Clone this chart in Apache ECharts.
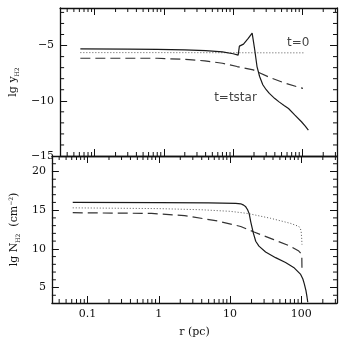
<!DOCTYPE html>
<html><head><meta charset="utf-8">
<script src="https://cdn.jsdelivr.net/npm/echarts@6/dist/echarts.min.js"></script>
<style>html,body{margin:0;padding:0;background:#fff}#c{width:342px;height:339px}</style>
</head><body><div id="c"></div>
<script>
// ---- data (r in pc) ----
const topSolidR = [0.062,0.3,0.8,2,4,7,10,11.8,12.2,12.3,14.1,16.5,18.8,19.6,20.5,22.1,24.1,26.8,30,33.3,40,46,55,63,78,97,110,122];
const topSolidY = [-5.30,-5.32,-5.34,-5.40,-5.46,-5.58,-5.74,-5.87,-5.85,-5.05,-4.87,-4.35,-3.87,-4.6,-5.4,-6.9,-7.8,-8.55,-9.0,-9.33,-9.8,-10.1,-10.45,-10.7,-11.3,-11.9,-12.3,-12.65];
const topDotR = [0.062,1,10,50,104];
const topDotY = [-5.64,-5.64,-5.65,-5.66,-5.66];
const topDashR = [0.062,0.8,2.3,3.9,7,11.4,19.5,33.3,56.8,102];
const topDashY = [-6.15,-6.15,-6.27,-6.39,-6.6,-6.9,-7.2,-7.87,-8.42,-8.88];

const botSolidR = [0.062,1,5,12,14.1,15.5,16.6,17.6,18.5,19.5,21.2,22.9,25.4,31.5,43.5,60,78,97,105,110,116,120,123];
const botSolidY = [16.0,15.98,15.93,15.88,15.82,15.65,15.43,15.05,14.58,13.5,12.04,10.98,10.35,9.59,8.86,8.23,7.6,6.74,6.1,5.47,4.6,3.78,3.1];
const botDotR = [0.062,1,4,10,17.5,37,70,92,97,99.3,101,102];
const botDotY = [15.3,15.2,15.05,14.85,14.58,13.95,13.3,12.9,12.6,12.25,11.4,10.55];
const botDashR = [0.062,0.79,2.3,6.7,14.1,21.7,41,70,92,99,101.5,102];
const botDashY = [14.67,14.58,14.29,13.6,12.89,12.17,11.19,10.35,9.71,9.4,8.86,7.4];

const annoText = ['t=0','t=tstar'];
const annoR = [87,10.8];
const annoY = [-4.73,-9.78];

// ---- ticks ----
const xTickValues = [0.1,1,10,100];
const xTickLabels = ['0.1','1','10','100'];
const xMinorValues = [0.04,0.05,0.06,0.07,0.08,0.09,0.2,0.3,0.4,0.5,0.6,0.7,0.8,0.9,2,3,4,5,6,7,8,9,20,30,40,50,60,70,80,90,200,300];
const topYTicks = [-15,-10,-5];
const topYMinor = [-14,-13,-12,-11,-9,-8,-7,-6,-4,-3,-2];
const botYTicks = [5,10,15,20];
const botYMinor = [4,6,7,8,9,11,12,13,14,16,17,18,19,21];

const L = Math.log10;
const pair = (rs, ys) => rs.map((r,i)=>[L(r), ys[i]]);

const FONT = 'DejaVu Serif';
const ink = '#111';
const X0 = -1.5, X1 = 2.5;
const TOP = [-15,-1.6], BOT = [3,22];

function xAx(grid, pos, labels){
  return {type:'value', gridIndex:grid, position:pos, min:X0, max:X1,
    axisLine:{show:true, onZero:false, lineStyle:{color:ink, width:1.3}},
    splitLine:{show:false},
    axisTick:{show:true, inside:true, length:7, customValues:xTickValues.map(L), lineStyle:{color:ink,width:1}},
    axisLabel:{show:!!labels, customValues:xTickValues.map(L), margin:6, fontFamily:FONT, fontSize:11, color:ink,
      formatter:v=>{let i=xTickValues.findIndex(t=>Math.abs(L(t)-v)<1e-6);return i>=0?xTickLabels[i]:'';}}};
}
function yAx(grid, pos, ext, vals, labels){
  return {type:'value', gridIndex:grid, position:pos, min:ext[0], max:ext[1],
    axisLine:{show:true, onZero:false, lineStyle:{color:ink, width:1.3}},
    splitLine:{show:false},
    axisTick:{show:true, inside:true, length:7, customValues:vals, lineStyle:{color:ink,width:1}},
    axisLabel:{show:!!labels, customValues:vals, margin:6, fontFamily:FONT, fontSize:11, color:ink,
      formatter:v=>v<0?'\u2212'+Math.abs(v):String(v)}};
}

const grids = [
  {left:50,right:5,top:8,height:148},
  {left:50,right:5,top:156,height:150}
];

const xAxes = [
  xAx(0,'bottom',false), xAx(0,'top',false),
  Object.assign(xAx(1,'bottom',true),{name:'r (pc)',nameLocation:'middle',nameGap:24,nameTextStyle:{fontFamily:FONT,fontSize:11,color:ink}}),
  xAx(1,'top',false)
];
const yAxes = [
  Object.assign(yAx(0,'left',TOP,topYTicks,true),{name:'{a|lg y}{s|H2}',nameLocation:'middle',nameGap:38,
    nameTextStyle:{rich:{a:{fontFamily:FONT,fontSize:11,color:ink},s:{fontFamily:FONT,fontSize:6,color:ink,padding:[7,0,0,0]}}}}),
  yAx(0,'right',TOP,topYTicks,false),
  Object.assign(yAx(1,'left',BOT,botYTicks,true),{name:'{a|lg N}{s|H2}{a|  (cm}{p|\u22122}{a|)}',nameLocation:'middle',nameGap:30,
    nameTextStyle:{rich:{a:{fontFamily:FONT,fontSize:11,color:ink},s:{fontFamily:FONT,fontSize:6,color:ink,padding:[7,0,0,0]},p:{fontFamily:FONT,fontSize:6,color:ink,padding:[0,0,7,0]}}}}),
  yAx(1,'right',BOT,botYTicks,false)
];

const solid = {color:'#1a1a1a', width:1.2, type:'solid'};
const dotted = {color:'#555', width:1, type:[1,2]};
const dashed = {color:'#333', width:1.2, type:[10,5]};
function line(xi, yi, data, style){
  return {type:'line', xAxisIndex:xi, yAxisIndex:yi, data:data, showSymbol:false, symbol:'none', lineStyle:style, animation:false, silent:true, clip:true};
}
// minor ticks drawn through the axes' own scales
function minorTicks(gi, ext, yMinor){
  const data = xMinorValues.map(v=>[L(v), ext[0], 0]).concat(yMinor.map(v=>[X0, v, 1]));
  return {type:'custom', xAxisIndex:gi*2, yAxisIndex:gi*2, silent:true, clip:false, data:data,
    renderItem:(params, api)=>{
      const x = api.value(0), y = api.value(1), k = api.value(2), n = 4;
      let a, b;
      if(k===0){ a = api.coord([x, ext[0]]); b = api.coord([x, ext[1]]);
        return {type:'group', children:[
          {type:'line', shape:{x1:a[0],y1:a[1],x2:a[0],y2:a[1]-n}, style:{stroke:ink,lineWidth:1}},
          {type:'line', shape:{x1:b[0],y1:b[1],x2:b[0],y2:b[1]+n}, style:{stroke:ink,lineWidth:1}}]};
      }
      a = api.coord([X0, y]); b = api.coord([X1, y]);
      return {type:'group', children:[
        {type:'line', shape:{x1:a[0],y1:a[1],x2:a[0]+n,y2:a[1]}, style:{stroke:ink,lineWidth:1}},
        {type:'line', shape:{x1:b[0],y1:b[1],x2:b[0]-n,y2:b[1]}, style:{stroke:ink,lineWidth:1}}]};
    }};
}

const option = {
  animation:false,
  backgroundColor:'#fff',
  grid:grids, xAxis:xAxes, yAxis:yAxes,
  series:[
    minorTicks(0, TOP, topYMinor),
    minorTicks(1, BOT, botYMinor),
    line(0,0,pair(topDotR,topDotY),dotted),
    line(0,0,pair(topDashR,topDashY),dashed),
    line(0,0,pair(topSolidR,topSolidY),solid),
    line(2,2,pair(botDotR,botDotY),dotted),
    line(2,2,pair(botDashR,botDashY),dashed),
    line(2,2,pair(botSolidR,botSolidY),solid),
    {type:'scatter', xAxisIndex:0, yAxisIndex:0, symbolSize:0, silent:true,
     data:annoText.map((t,i)=>({value:[L(annoR[i]),annoY[i]], name:t})),
     label:{show:true, position:'inside', formatter:p=>p.name, fontFamily:'DejaVu Sans', fontSize:12, color:ink}}
  ]
};
echarts.init(document.getElementById('c'),null,{renderer:'canvas'}).setOption(option);
</script></body></html>
